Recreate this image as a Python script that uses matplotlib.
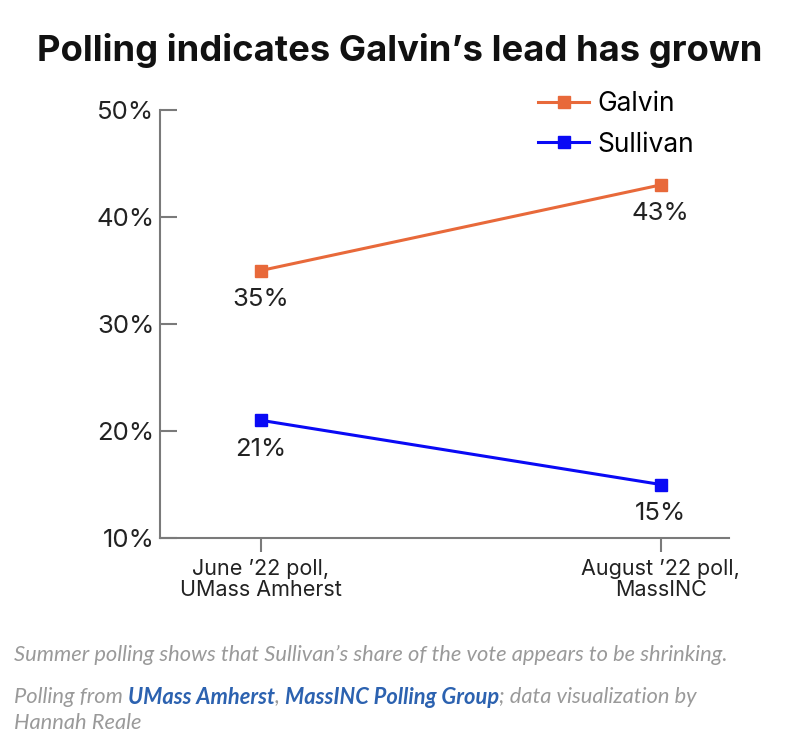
import matplotlib
matplotlib.use("Agg")
import matplotlib.pyplot as plt

polls = ["June \u201922 poll,\nUMass Amherst", "August \u201922 poll,\nMassINC"]
galvin = [35, 43]
sullivan = [21, 15]
y_ticks = [10, 20, 30, 40, 50]

ORANGE = "#E8693A"
BLUE = "#0A0AF5"
GRAY = "#7a7a7a"

plt.rcParams["font.family"] = ["Inter", "DejaVu Sans"]

fig = plt.figure(figsize=(8, 7.55), dpi=100)
ax = fig.add_axes([0.2, 0.2874, 0.711, 0.5669])

x = list(range(len(polls)))
ax.plot(x, galvin, color=ORANGE, lw=2.2, marker="s", ms=9, label="Galvin")
ax.plot(x, sullivan, color=BLUE, lw=2.2, marker="s", ms=9, label="Sullivan")

for xs, ys in [(x, galvin), (x, sullivan)]:
    for xi, yi in zip(xs, ys):
        ax.annotate(f"{yi}%", (xi, yi), xytext=(0, -29), textcoords="offset pixels",
                    ha="center", va="center", fontsize=18.5, color="#222222")

ax.set_xlim(-0.2525, 1.17)
ax.set_ylim(10, 50)
ax.set_yticks(y_ticks)
ax.set_yticklabels([f"{v}%" for v in y_ticks])
ax.set_xticks(x)
ax.set_xticklabels(polls, linespacing=1.1)

for s in ["top", "right"]:
    ax.spines[s].set_visible(False)
for s in ["left", "bottom"]:
    ax.spines[s].set_color(GRAY)
    ax.spines[s].set_linewidth(1.5)

ax.tick_params(axis="y", direction="in", length=12, width=1.5, color=GRAY,
               labelsize=18.5, labelcolor="#222222", pad=4)
ax.tick_params(axis="x", direction="out", length=10, width=1.5, color=GRAY,
               labelsize=15.5, labelcolor="#222222", pad=5)

leg = ax.legend(loc="upper left", bbox_to_anchor=(538 / 800, 1 - 91 / 755),
                bbox_transform=fig.transFigure, frameon=False, fontsize=19,
                handlelength=1.95, handletextpad=0.3, labelspacing=0.55,
                borderpad=0, borderaxespad=0)

fig.text(0.5, 1 - 50 / 755, "Polling indicates Galvin\u2019s lead has grown",
         ha="center", va="center", fontsize=26.2, fontweight="bold", color="#111111")

# caption lines, built piece by piece
cap_gray = "#9a9a9a"
cap_blue = "#2C62B0"
lines = [
    [("Summer polling shows that Sullivan\u2019s share of the vote appears to be shrinking.", False)],
    [("Polling from ", False), ("UMass Amherst", True), (", ", False),
     ("MassINC Polling Group", True), ("; data visualization by", False)],
    [("Hannah Reale", False)],
]
line_y = [655, 697, 723]
renderer = fig.canvas.get_renderer()
for pieces, yp in zip(lines, line_y):
    xp = 14
    for txt, bold in pieces:
        t = fig.text(xp / 800, 1 - yp / 755, txt, ha="left", va="center",
                     fontsize=15.75, style="italic", family=["Lato", "DejaVu Sans"],
                     fontweight="bold" if bold else "normal",
                     color=cap_blue if bold else cap_gray)
        bb = t.get_window_extent(renderer)
        xp += bb.width

fig.savefig("out.png", dpi=100)
